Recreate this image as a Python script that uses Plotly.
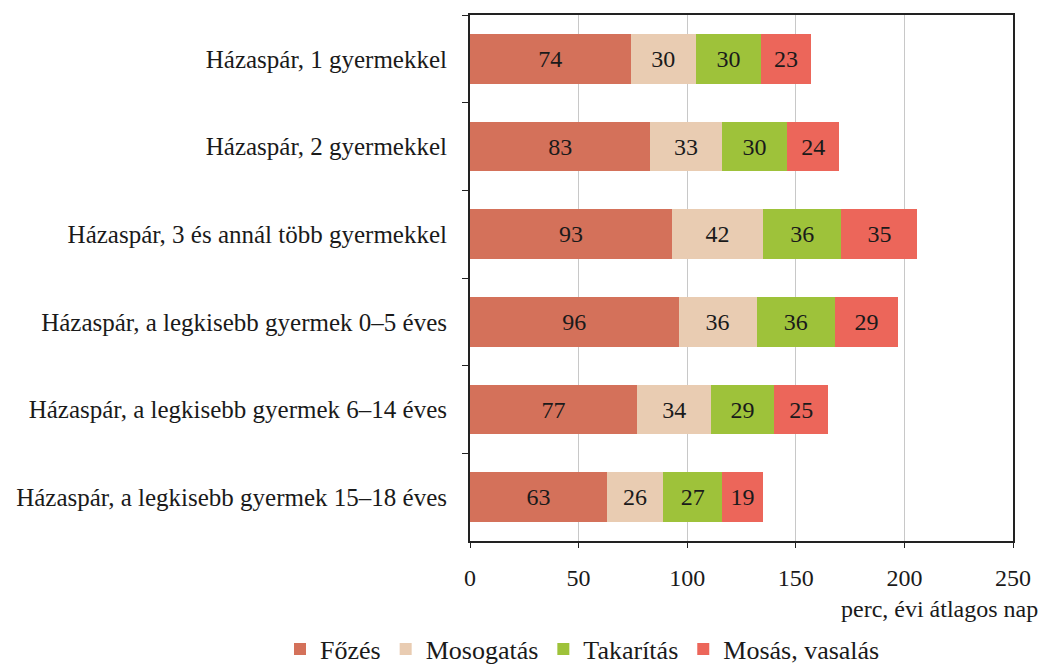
import plotly.graph_objects as go

categories = [
    "Házaspár, 1 gyermekkel",
    "Házaspár, 2 gyermekkel",
    "Házaspár, 3 és annál több gyermekkel",
    "Házaspár, a legkisebb gyermek 0–5 éves",
    "Házaspár, a legkisebb gyermek 6–14 éves",
    "Házaspár, a legkisebb gyermek 15–18 éves",
]
series_names = ["Főzés", "Mosogatás", "Takarítás", "Mosás, vasalás"]
fozes = [74, 83, 93, 96, 77, 63]
mosogatas = [30, 33, 42, 36, 34, 26]
takaritas = [30, 30, 36, 36, 29, 27]
mosas = [23, 24, 35, 29, 25, 19]
x_ticks = [0, 50, 100, 150, 200, 250]
x_title = "perc, évi átlagos nap"

colors = ["#D4715A", "#E9CCB2", "#9EC23A", "#EC665A"]
values = [fozes, mosogatas, takaritas, mosas]
FONT = "Liberation Serif"
FS = 24

fig = go.Figure()
for name, vals, col in zip(series_names, values, colors):
    fig.add_trace(go.Bar(
        y=categories, x=vals, name=name, orientation="h",
        marker=dict(color=col, line=dict(width=0)),
        text=[str(v) for v in vals], textposition="inside",
        insidetextanchor="middle",
        textfont=dict(family=FONT, size=FS, color="#1a1a1a"),
        hoverinfo="skip",
    ))

fig.update_layout(
    barmode="stack",
    bargap=0.43,
    width=1042, height=664,
    margin=dict(l=470, r=29, t=15, b=123, autoexpand=False),
    plot_bgcolor="white", paper_bgcolor="white",
    font=dict(family=FONT, size=FS, color="#1a1a1a"),
    uniformtext=dict(mode=False),
    showlegend=True,
    legend=dict(orientation="h", xref="paper", yref="paper",
                x=(280 - 470) / 543, xanchor="left", y=-(649 - 541) / 526, yanchor="middle",
                bgcolor="rgba(0,0,0,0)",
                font=dict(family=FONT, size=26, color="#1a1a1a"),
                itemwidth=30, tracegroupgap=0, traceorder="normal"),
)
fig.update_xaxes(
    range=[0, 250], tickvals=x_ticks, ticktext=[str(t) for t in x_ticks],
    showgrid=True, gridcolor="#C8C8C8", gridwidth=1,
    showline=True, linecolor="#222222", linewidth=2, mirror=True,
    ticks="outside", ticklen=5, tickcolor="#222222", tickwidth=1,
    zeroline=False, tickfont=dict(family=FONT, size=FS), ticklabelstandoff=9,
    automargin=False,
)
fig.update_yaxes(
    categoryorder="array", categoryarray=categories, autorange="reversed",
    showline=True, linecolor="#222222", linewidth=2, mirror=True,
    ticks="outside", ticklen=6, tickcolor="#222222", tickwidth=1,
    tickson="boundaries", showgrid=False,
    tickfont=dict(family=FONT, size=25), ticklabelstandoff=16,
    automargin=False,
)
fig.add_annotation(
    text=x_title, xref="paper", yref="paper", x=(1040 - 470) / 543, y=-0.1,
    xanchor="right", yanchor="top", showarrow=False,
    font=dict(family=FONT, size=FS, color="#1a1a1a"),
)
fig.write_html("out.html", config={"displayModeBar": False},
               post_script="document.body.style.margin='0';")
